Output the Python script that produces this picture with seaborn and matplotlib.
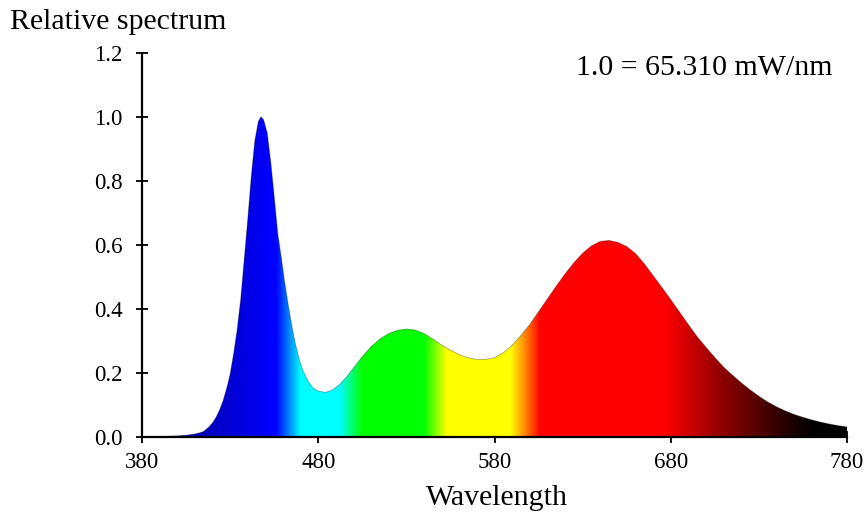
import numpy as np
import pandas as pd
import matplotlib
matplotlib.use("Agg")
import matplotlib.pyplot as plt
from matplotlib.patches import Polygon
import seaborn as sns

# ---- data ----
wavelength = [380, 390, 395, 400, 405, 410, 413, 415, 418, 420, 422, 424, 426, 428,
              430, 432, 434, 436, 438, 440, 442, 444, 446, 447.5, 449, 451, 453, 455,
              457, 459, 461, 463, 465, 467, 469, 471, 474, 477, 480, 484, 488, 492,
              496, 500, 505, 510, 515, 520, 525, 530, 535, 540, 545, 550, 555, 560,
              565, 570, 575, 580, 585, 590, 595, 600, 605, 610, 615, 620, 625, 630,
              635, 640, 645, 650, 655, 660, 665, 670, 675, 680, 685, 690, 695, 700,
              705, 710, 715, 720, 725, 730, 735, 740, 745, 750, 755, 760, 765, 770,
              775, 780]
relative = [0.0, 0.0, 0.001, 0.002, 0.004, 0.008, 0.012, 0.016, 0.03, 0.043, 0.06,
            0.083, 0.112, 0.15, 0.195, 0.26, 0.335, 0.43, 0.555, 0.68, 0.815, 0.925,
            0.985, 1.0, 0.99, 0.95, 0.86, 0.75, 0.635, 0.56, 0.48, 0.41, 0.345, 0.29,
            0.245, 0.21, 0.175, 0.152, 0.142, 0.138, 0.145, 0.162, 0.186, 0.214, 0.25,
            0.281, 0.305, 0.322, 0.332, 0.336, 0.333, 0.322, 0.305, 0.286, 0.27, 0.256,
            0.246, 0.241, 0.241, 0.246, 0.262, 0.285, 0.316, 0.35, 0.39, 0.43, 0.47,
            0.508, 0.543, 0.573, 0.596, 0.61, 0.613, 0.607, 0.594, 0.572, 0.54, 0.503,
            0.466, 0.428, 0.389, 0.35, 0.312, 0.279, 0.247, 0.217, 0.192, 0.168, 0.146,
            0.126, 0.108, 0.093, 0.08, 0.069, 0.06, 0.052, 0.045, 0.039, 0.034, 0.03]
x_ticks = [380, 480, 580, 680, 780]
y_ticks = [0.0, 0.2, 0.4, 0.6, 0.8, 1.0, 1.2]
title_text = "Relative spectrum"
x_label = "Wavelength"
note_text = "1.0 = 65.310 mW/nm"

# colour stops of the spectral fill (style)
stop_nm = [380, 410, 440, 452, 456, 470, 492, 505, 540, 553, 589, 597, 606, 676,
           710, 748, 762, 780]
stop_rgb = [(0, 0, 0.55), (0, 0, 0.7), (0, 0, 0.9), (0, 0, 1), (0, 0, 1), (0, 1, 1),
            (0, 1, 1), (0, 1, 0), (0, 1, 0), (1, 1, 0), (1, 1, 0), (1, 0.55, 0),
            (1, 0, 0), (1, 0, 0), (0.55, 0, 0), (0.12, 0, 0), (0, 0, 0), (0, 0, 0)]

sns.set_theme(style="white")
plt.rcParams["font.family"] = ["Liberation Serif", "DejaVu Serif"]
plt.rcParams["text.color"] = "black"

df = pd.DataFrame({"Wavelength": wavelength, "Relative": relative})

fig = plt.figure(figsize=(8.64, 5.18), dpi=100)
ax = fig.add_axes([0.1644, 0.1573, 0.8159, 0.7410])

grid = np.linspace(380, 780, 801)
rgb = np.stack([np.interp(grid, stop_nm, [c[i] for c in stop_rgb]) for i in range(3)], axis=-1)
img = ax.imshow(rgb[np.newaxis, :, :], extent=[380, 780, 0, 1.2], aspect="auto",
                interpolation="bilinear", origin="lower", zorder=1)
verts = list(zip(df["Wavelength"], df["Relative"])) + [(780, 0), (380, 0)]
clip = Polygon(verts, closed=True, transform=ax.transData, facecolor="none", edgecolor="none")
ax.add_patch(clip)
img.set_clip_path(clip)

sns.lineplot(data=df, x="Wavelength", y="Relative", ax=ax, color="black",
             linewidth=0.7, alpha=0.3, zorder=2)

ax.set_xlim(380, 780)
ax.set_ylim(0, 1.2)
ax.set_xlabel("")
ax.set_ylabel("")
ax.set_xticks(x_ticks)
ax.set_xticklabels([str(v) for v in x_ticks], fontsize=16.5, color="black")
ax.set_yticks(y_ticks)
ax.set_yticklabels([f"{v:.1f}" for v in y_ticks], fontsize=16.5, color="black")
ax.tick_params(axis="both", which="major", direction="inout", length=8, width=1.3,
               colors="black", bottom=True, left=True)
ax.tick_params(axis="y", pad=10)
ax.tick_params(axis="x", pad=7)
for s in ["top", "right"]:
    ax.spines[s].set_visible(False)
for s in ["left", "bottom"]:
    ax.spines[s].set_color("black")
    ax.spines[s].set_linewidth(1.6)
    ax.spines[s].set_zorder(5)
ax.grid(False)

fig.text(10 / 864, 1 - 22 / 518, title_text, ha="left", va="center", fontsize=21.5, color="black")
fig.text(497 / 864, 1 - 498 / 518, x_label, ha="center", va="center", fontsize=21.5, color="black")
fig.text(832 / 864, 1 - 68 / 518, note_text, ha="right", va="center", fontsize=21.5, color="black")

fig.savefig("out.png", dpi=100)
